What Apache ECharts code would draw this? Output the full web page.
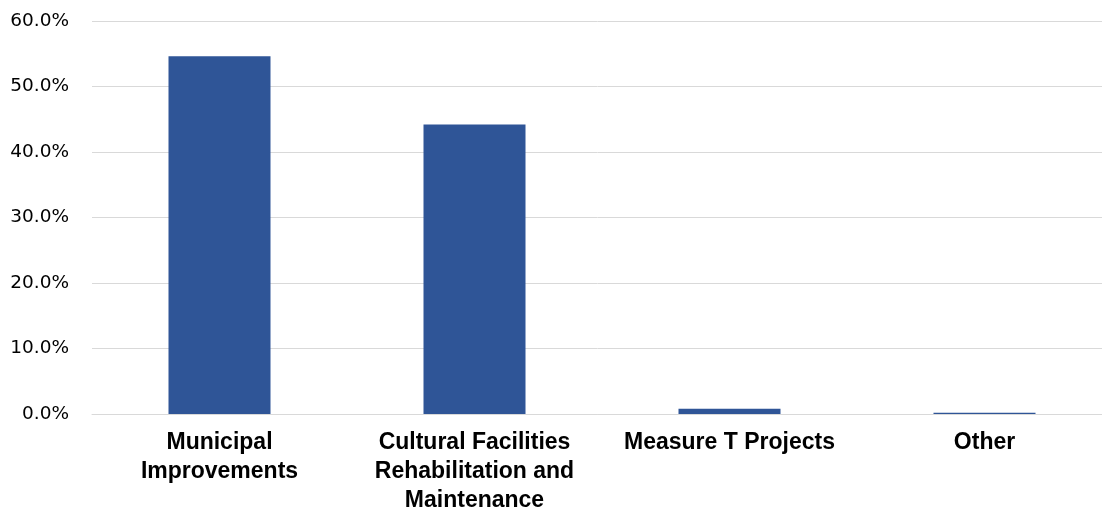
<!DOCTYPE html>
<html>
<head>
<meta charset="utf-8">
<style>
  html, body { margin: 0; padding: 0; background: #fff; }
  #chart { width: 1102px; height: 510px; }
</style>
<script src="https://cdn.jsdelivr.net/npm/echarts@6/dist/echarts.min.js"></script>
</head>
<body>
<div id="chart"></div>
<script>
// categories and shares (percent)
var categories = [
  'Municipal\nImprovements',
  'Cultural Facilities\nRehabilitation and\nMaintenance',
  'Measure T Projects',
  'Other'
]
var shares = [54.6, 44.2, 0.8, 0.2]
var yTicks = [0, 10, 20, 30, 40, 50, 60]

var chart = echarts.init(document.getElementById('chart'))
chart.setOption({
  animation: false,
  grid: {
    left: 92,
    right: -10,
    top: 21,
    bottom: 96,
    containLabel: false,
    outerBoundsMode: 'none'
  },
  xAxis: {
    type: 'category',
    data: categories,
    axisTick: { show: false },
    axisLine: {
      lineStyle: { color: '#d9d9d9', width: 1 }
    },
    axisLabel: {
      interval: 0,
      margin: 14,
      color: '#000',
      fontFamily: 'Liberation Sans, Arial, sans-serif',
      fontWeight: 'bold',
      fontSize: 23,
      lineHeight: 29,
      align: 'center'
    }
  },
  yAxis: {
    type: 'value',
    min: yTicks[0],
    max: yTicks[yTicks.length - 1],
    interval: 10,
    axisTick: { show: false },
    axisLine: { show: false },
    axisLabel: {
      margin: 23,
      color: '#000',
      fontFamily: 'DejaVu Sans, sans-serif',
      fontSize: 18.5,
      formatter: function(v) {
        return v.toFixed(1) + '%'
      }
    },
    splitLine: {
      show: true,
      lineStyle: { color: '#d9d9d9', width: 1 }
    }
  },
  series: [{
    type: 'bar',
    data: shares,
    barWidth: '40%',
    itemStyle: { color: '#2f5597' }
  }]
})
</script>
</body>
</html>
